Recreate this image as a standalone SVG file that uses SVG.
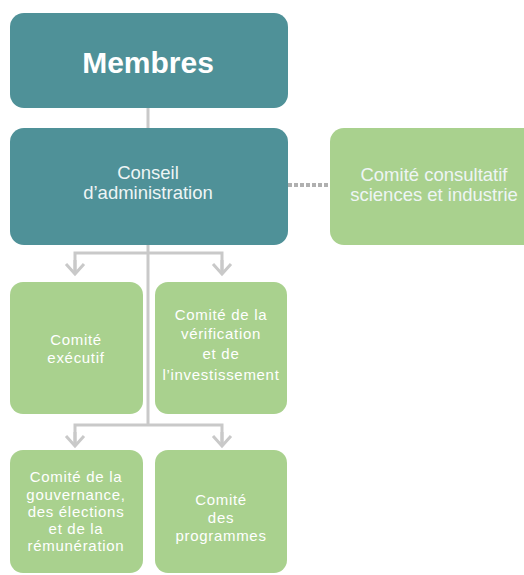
<svg xmlns="http://www.w3.org/2000/svg" width="524" height="575" viewBox="0 0 524 575">
<style>
.teal{fill:#4f9198}
.green{fill:#a9d18e}
.t{font-family:"Liberation Sans",Arial,sans-serif;fill:#ffffff;text-anchor:middle}
.big{font-size:30px;font-weight:bold}
.mid{font-size:18.5px;fill:#eef5f5}
.sm{font-size:15px;letter-spacing:0.7px}
.ln{fill:none;stroke:#c9c9c9;stroke-width:3}
.arr{fill:none;stroke:#c9c9c9;stroke-width:3;marker-end:url(#chev)}
.dash{fill:none;stroke:#b0b0b0;stroke-width:4;stroke-dasharray:4 2}
</style>
<defs>
<marker id="chev" markerUnits="userSpaceOnUse" markerWidth="22" markerHeight="22" refX="11" refY="11" viewBox="0 0 22 22" orient="auto">
<path d="M1,2 L11,11 L1,20" fill="none" stroke="#c9c9c9" stroke-width="3"/>
</marker>
</defs>
<g id="connectors">
<line class="ln" x1="148" y1="107" x2="148" y2="129"/>
<line class="ln" x1="148" y1="244" x2="148" y2="425"/>
<polyline class="ln" points="75,273 75,253 222,253 222,273"/>
<line class="arr" x1="75" y1="260" x2="75" y2="274"/>
<line class="arr" x1="222" y1="260" x2="222" y2="274"/>
<polyline class="ln" points="75,445 75,425 222,425 222,445"/>
<line class="arr" x1="75" y1="432" x2="75" y2="446"/>
<line class="arr" x1="222" y1="432" x2="222" y2="446"/>
<line class="dash" x1="288" y1="185" x2="331" y2="185"/>
</g>
<g id="membres">
<rect class="teal" x="10" y="13" width="278" height="95" rx="14"/>
<text class="t big" x="148" y="73">Membres</text>
</g>
<g id="conseil">
<rect class="teal" x="10" y="128" width="278" height="117" rx="14"/>
<text class="t mid" x="148" y="179">Conseil</text>
<text class="t mid" x="148" y="199">d’administration</text>
</g>
<g id="consultatif">
<rect class="green" x="330" y="128" width="210" height="117" rx="14"/>
<text class="t mid" x="434" y="181">Comité consultatif</text>
<text class="t mid" x="434" y="201">sciences et industrie</text>
</g>
<g id="executif">
<rect class="green" x="10" y="282" width="133" height="132" rx="13"/>
<text class="t sm" x="76" y="345">Comité</text>
<text class="t sm" x="76" y="363">exécutif</text>
</g>
<g id="verification">
<rect class="green" x="155" y="282" width="132" height="132" rx="13"/>
<text class="t sm" x="221" y="320">Comité de la</text>
<text class="t sm" x="221" y="339">vérification</text>
<text class="t sm" x="221" y="359">et de</text>
<text class="t sm" x="221" y="380">l’investissement</text>
</g>
<g id="gouvernance">
<rect class="green" x="10" y="450" width="133" height="123" rx="13"/>
<text class="t sm" x="76" y="482">Comité de la</text>
<text class="t sm" x="76" y="500">gouvernance,</text>
<text class="t sm" x="76" y="517">des élections</text>
<text class="t sm" x="76" y="534">et de la</text>
<text class="t sm" x="76" y="551">rémunération</text>
</g>
<g id="programmes">
<rect class="green" x="155" y="450" width="132" height="123" rx="13"/>
<text class="t sm" x="221" y="505">Comité</text>
<text class="t sm" x="221" y="523">des</text>
<text class="t sm" x="221" y="541">programmes</text>
</g>
</svg>
